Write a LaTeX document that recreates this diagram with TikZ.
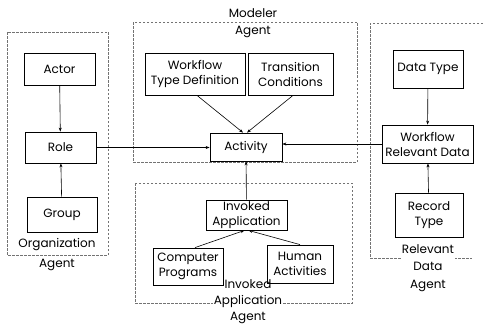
\documentclass[tikz,border=0pt]{standalone}
\usepackage{fontspec}
\setmainfont{Poppins}
\usetikzlibrary{arrows.meta, positioning}

\begin{document}
\begin{tikzpicture}[
    x=1pt, y=-1pt,
    box/.style={rectangle, draw, line width=0.8pt, align=center, inner sep=1pt, font=\fontsize{12}{15}\selectfont},
    agent/.style={draw=black!55, dash pattern=on 2.5pt off 1.5pt, line width=0.5pt},
    lbl/.style={inner sep=1pt, align=center},
    arr/.style={-{Stealth[length=4pt, width=3pt]}, line width=0.6pt}
]
\useasboundingbox (0,0) rectangle (483,324);

% Agent areas
\draw[agent] (7,32) rectangle (108,255);
\draw[agent] (133,22) rectangle (357,162);
\draw[agent] (135,183) rectangle (352,303);
\draw[agent] (483,23) -- (370,23) -- (370,258) -- (472,258);

\node[lbl, font=\fontsize{12}{20}\selectfont] (orglbl) at (57,255) {Organization\\Agent};
\node[lbl, font=\fontsize{12}{17}\selectfont] (modlbl) at (253,23.5) {Modeler\\Agent};
\node[lbl, fill=white, font=\fontsize{12}{16}\selectfont] (invlbl) at (248,302) {Invoked\\Application\\Agent};
\node[lbl, fill=white, font=\fontsize{12}{17.5}\selectfont] (rellbl) at (428,268) {Relevant\\Data\\Agent};

% Organization agent
\node[box, minimum width=71pt, minimum height=32pt] (actor) at (59.5,69) {Actor};
\node[box, minimum width=71pt, minimum height=31pt] (role) at (60.5,147.5) {Role};
\node[box, minimum width=70pt, minimum height=35pt] (group) at (62,214.5) {Group};

% Modeler agent
\node[box, minimum width=100pt, minimum height=42pt] (wtd) at (195,74) {Workflow\\Type Definition};
\node[box, minimum width=85pt, minimum height=42pt] (tc) at (290.5,74) {Transition\\Conditions};
\node[box, minimum width=72pt, minimum height=28pt] (activity) at (246,147) {Activity};

% Invoked application agent
\node[box, minimum width=81pt, minimum height=30pt] (invoked) at (246.5,215) {Invoked\\Application};
\node[box, minimum width=70pt, minimum height=37pt] (computer) at (188,266.5) {Computer\\Programs};
\node[box, minimum width=66pt, minimum height=38pt] (human) at (300,264) {Human\\Activities};

% Relevant data agent
\node[box, minimum width=70pt, minimum height=38pt] (datatype) at (428,69) {Data Type};
\node[box, minimum width=91pt, minimum height=38pt] (wrd) at (427.5,144) {Workflow\\Relevant Data};
\node[box, minimum width=68pt, minimum height=44pt] (record) at (429,215) {Record\\Type};

% Arrows
\draw[arr] (actor) -- (role);
\draw[arr] (group) -- (role);
\draw[arr] ([xshift=2pt]wtd.south) -- ([xshift=-3pt]activity.north);
\draw[arr] ([xshift=2.5pt]tc.south) -- ([xshift=1pt]activity.north);
\draw[arr] (role.east) -- (role.east -| activity.west);
\draw[arr] (wrd.west) -- (wrd.west -| activity.east);
\draw[arr] (invoked) -- (activity);
\draw[arr] ([xshift=7pt]computer.north) -- ([xshift=-2pt]invoked.south);
\draw[arr] (human.north) -- ([xshift=2pt]invoked.south);
\draw[arr] (datatype) -- (wrd);
\draw[arr] (record) -- (wrd);

\end{tikzpicture}
\end{document}
